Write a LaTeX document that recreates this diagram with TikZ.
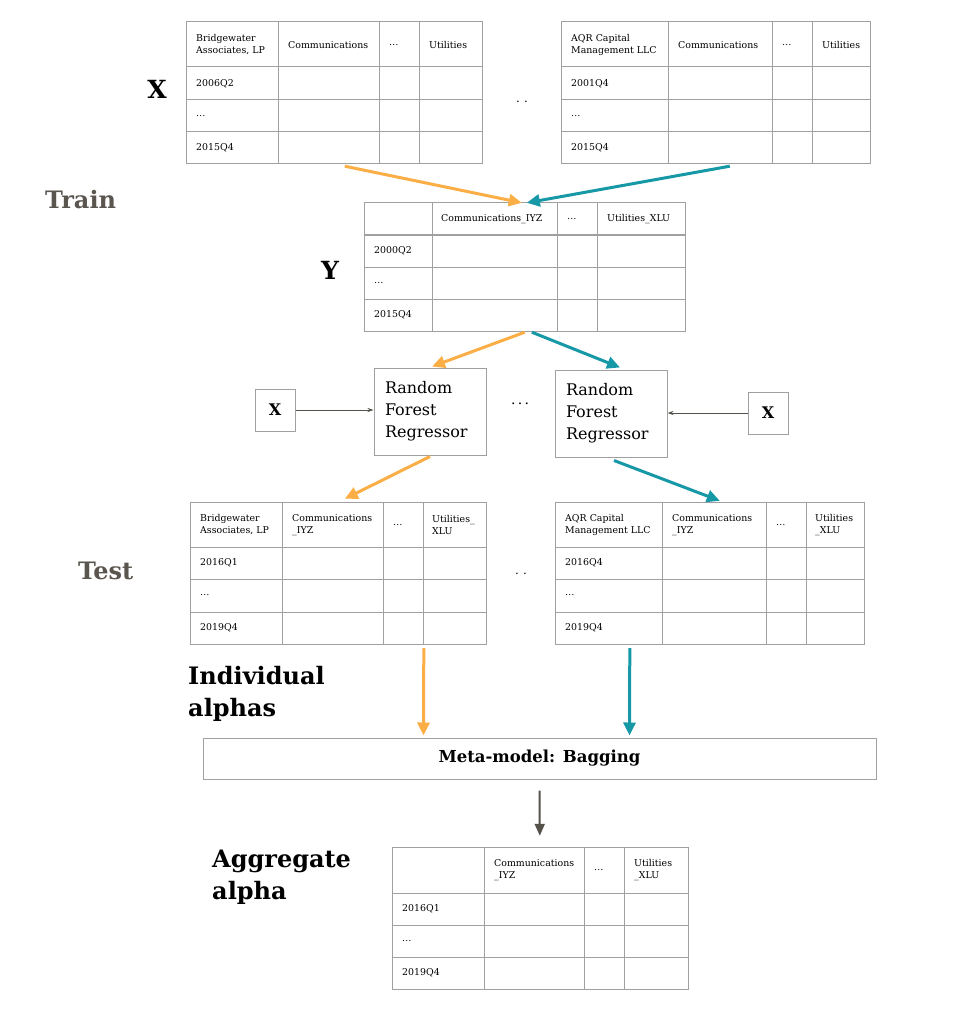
\documentclass[tikz,border=0pt]{standalone}
\usepackage{fontspec}
\setmainfont{DejaVu Serif}
\usetikzlibrary{positioning,arrows.meta,calc,fit}
\definecolor{alphaorange}{HTML}{FBAE46}
\definecolor{alphateal}{HTML}{1798A6}
\definecolor{gridgray}{HTML}{A0A0A0}
\definecolor{stagegray}{HTML}{5A554E}
\definecolor{flowgray}{HTML}{55514B}
\tikzset{
  grid line/.style={draw=gridgray, line width=1pt},
  cell text/.style={anchor=west, align=left, inner sep=0pt, font=\fontsize{9.4}{12}\selectfont},
  stage label/.style={anchor=west, align=left, inner sep=0pt, font=\fontsize{24}{31.5}\selectfont\bfseries},
  model box/.style={rectangle, draw=gridgray, line width=1pt, align=left, inner sep=0pt,
    text width=90pt, minimum width=112pt, minimum height=87pt, font=\fontsize{16}{22}\selectfont},
  input box/.style={rectangle, draw=gridgray, line width=1pt, minimum width=40pt, minimum height=42pt,
    inner sep=0pt, font=\fontsize{16}{18}\selectfont\bfseries},
  alpha arrow/.style={line width=3pt, -{Triangle[length=13pt,width=12pt]}},
  thin arrow/.style={draw=flowgray, line width=0.8pt, -{Stealth[length=6pt,width=4pt]}}
}
% grid of a table: name, left, top, right, bottom, inner columns, inner rows
\newcommand{\tablegrid}[7]{%
  \draw[grid line] (#2,#3) rectangle (#4,#5);
  \foreach \cx in {#6} \draw[grid line] (\cx,#3) -- (\cx,#5);
  \foreach \cy in {#7} \draw[grid line] (#2,\cy) -- (#4,\cy);
  \node[fit={(#2,#3) (#4,#5)}, inner sep=0pt] (#1) {};
}

\begin{document}
\begin{tikzpicture}[x=1pt, y=-1pt]
  \useasboundingbox (0,0) rectangle (952,1016);

  % Stage labels
  \node[stage label, text=stagegray] (train) at (45,200) {Train};
  \node[stage label, text=stagegray] (test) at (78,571) {Test};
  \node[stage label] (indiv) at (188,694) {Individual\\alphas};
  \node[stage label] (aggr) at (212,877) {Aggregate\\alpha};
  \node[stage label, anchor=center, font=\fontsize{25}{28}\selectfont\bfseries] (xlbl) at (157,89) {X};
  \node[stage label, anchor=center, font=\fontsize{25}{28}\selectfont\bfseries] (ylbl) at (330,270) {Y};

  % Training inputs X
  \tablegrid{bwx}{186}{22}{482}{164}{278,379,419}{67,100,132}
  \node[cell text] (bwx-h1) at (196,45) {Bridgewater\\Associates, LP};
  \node[cell text] (bwx-h2) at (288,45) {Communications};
  \node[cell text] (bwx-h3) at (389,45) {…};
  \node[cell text] (bwx-h4) at (429,45) {Utilities};
  \foreach \lbl/\yy [count=\i] in {2006Q2/83.5, …/116, 2015Q4/148}
    \node[cell text] (bwx-r\i) at (196,\yy) {\lbl};

  \tablegrid{aqrx}{561}{22}{870}{164}{668,772,812}{67,100,132}
  \node[cell text] (aqrx-h1) at (571,45) {AQR Capital\\Management LLC};
  \node[cell text] (aqrx-h2) at (678,45) {Communications};
  \node[cell text] (aqrx-h3) at (782,45) {…};
  \node[cell text] (aqrx-h4) at (822,45) {Utilities};
  \foreach \lbl/\yy [count=\i] in {2001Q4/83.5, …/116, 2015Q4/148}
    \node[cell text] (aqrx-r\i) at (571,\yy) {\lbl};

  \node[font=\fontsize{12}{12}\selectfont] (xdots) at (522,102) {.\,\,.};

  % Training targets Y
  \tablegrid{ytab}{364}{203}{685}{331}{432,557,597}{235,267,299}
  \node[cell text] (ytab-h2) at (441,219) {Communications\_IYZ};
  \node[cell text] (ytab-h3) at (567,219) {…};
  \node[cell text] (ytab-h4) at (607,219) {Utilities\_XLU};
  \foreach \lbl/\yy [count=\i] in {2000Q2/251, …/283, 2015Q4/315}
    \node[cell text] (ytab-r\i) at (374,\yy) {\lbl};

  % Regressors
  \node[model box] (rfr1) at (430,411.5) {Random\\Forest\\Regressor};
  \node[model box] (rfr2) at (611,413.5) {Random\\Forest\\Regressor};
  \node[input box] (xin1) at (275,410) {X};
  \node[input box] (xin2) at (768,413) {X};
  \node[font=\fontsize{14}{14}\selectfont] (rdots) at (520,404) {.\,.\,.};

  % Test outputs
  \tablegrid{bwt}{190}{502}{486}{644}{282,383,423}{547,579,612}
  \node[cell text] (bwt-h1) at (200,525) {Bridgewater\\Associates, LP};
  \node[cell text] (bwt-h2) at (292,525) {Communications\\\_IYZ};
  \node[cell text] (bwt-h3) at (393,525) {…};
  \node[cell text] (bwt-h4) at (432,525) {Utilities\_\\XLU};
  \foreach \lbl/\yy [count=\i] in {2016Q1/563, …/595.5, 2019Q4/628}
    \node[cell text] (bwt-r\i) at (200,\yy) {\lbl};

  \tablegrid{aqrt}{555}{502}{864}{644}{662,766,806}{547,579,612}
  \node[cell text] (aqrt-h1) at (565,525) {AQR Capital\\Management LLC};
  \node[cell text] (aqrt-h2) at (672,525) {Communications\\\_IYZ};
  \node[cell text] (aqrt-h3) at (776,525) {…};
  \node[cell text] (aqrt-h4) at (815,525) {Utilities\\\_XLU};
  \foreach \lbl/\yy [count=\i] in {2016Q4/563, …/595.5, 2019Q4/628}
    \node[cell text] (aqrt-r\i) at (565,\yy) {\lbl};

  \node[font=\fontsize{12}{12}\selectfont] (tdots) at (521,574) {.\,\,.};

  % Meta-model
  \node[rectangle, draw=gridgray, line width=1pt, minimum width=673pt, minimum height=41pt,
    font=\fontsize{16.5}{18}\selectfont\bfseries] (meta) at (539.5,758.5) {Meta-model: Bagging};

  % Aggregate alpha
  \tablegrid{agg}{392}{847}{688}{989}{484,584,624}{893,925,957}
  \node[cell text] (agg-h2) at (494,870) {Communications\\\_IYZ};
  \node[cell text] (agg-h3) at (594,870) {…};
  \node[cell text] (agg-h4) at (634,870) {Utilities\\\_XLU};
  \foreach \lbl/\yy [count=\i] in {2016Q1/909, …/941, 2019Q4/973}
    \node[cell text] (agg-r\i) at (402,\yy) {\lbl};

  % Arrow ends
  \coordinate (bwx out) at ($(bwx.south west)+(159,2)$);
  \coordinate (aqrx out) at ($(aqrx.south west)+(169,2)$);
  \coordinate (y in1) at ($(ytab.north west)+(158,0)$);
  \coordinate (y in2) at ($(ytab.north west)+(163,0)$);
  \coordinate (y out1) at ($(ytab.south west)+(161,1)$);
  \coordinate (y out2) at ($(ytab.south west)+(168,1)$);
  \coordinate (bwt in) at ($(bwt.north west)+(155,-3)$);
  \coordinate (aqrt in) at ($(aqrt.north west)+(165,-1)$);
  \coordinate (bwt out) at ($(bwt.south west)+(234,4)$);
  \coordinate (aqrt out) at ($(aqrt.south west)+(75,4)$);
  \coordinate (meta in1) at ($(meta.north west)+(221,-2)$);
  \coordinate (meta in2) at ($(meta.north west)+(427,-2)$);
  \coordinate (meta out) at ($(meta.south)+(0,11)$);
  \coordinate (agg in) at ($(agg.north west)+(148,-11)$);

  % Connectors
  \draw[alpha arrow, alphaorange] (bwx out) -- (y in1);
  \draw[alpha arrow, alphateal] (aqrx out) -- (y in2);
  \draw[alpha arrow, alphaorange] (y out1) -- ($(rfr1.north)+(2,-1)$);
  \draw[alpha arrow, alphateal] (y out2) -- ($(rfr2.north)+(9,-2)$);
  \draw[alpha arrow, alphaorange] ($(rfr1.south)+(0,1)$) -- (bwt in);
  \draw[alpha arrow, alphateal] ($(rfr2.south)+(3,3)$) -- (aqrt in);
  \draw[alpha arrow, alphaorange] (bwt out) -- (meta in1);
  \draw[alpha arrow, alphateal] (aqrt out) -- (meta in2);
  \draw[flowgray, line width=2pt, -{Triangle[length=12pt,width=10pt]}] (meta out) -- (agg in);
  \draw[thin arrow] (xin1.east) -- (xin1.east -| rfr1.west);
  \draw[thin arrow] (xin2.west) -- (xin2.west -| rfr2.east);
\end{tikzpicture}
\end{document}
